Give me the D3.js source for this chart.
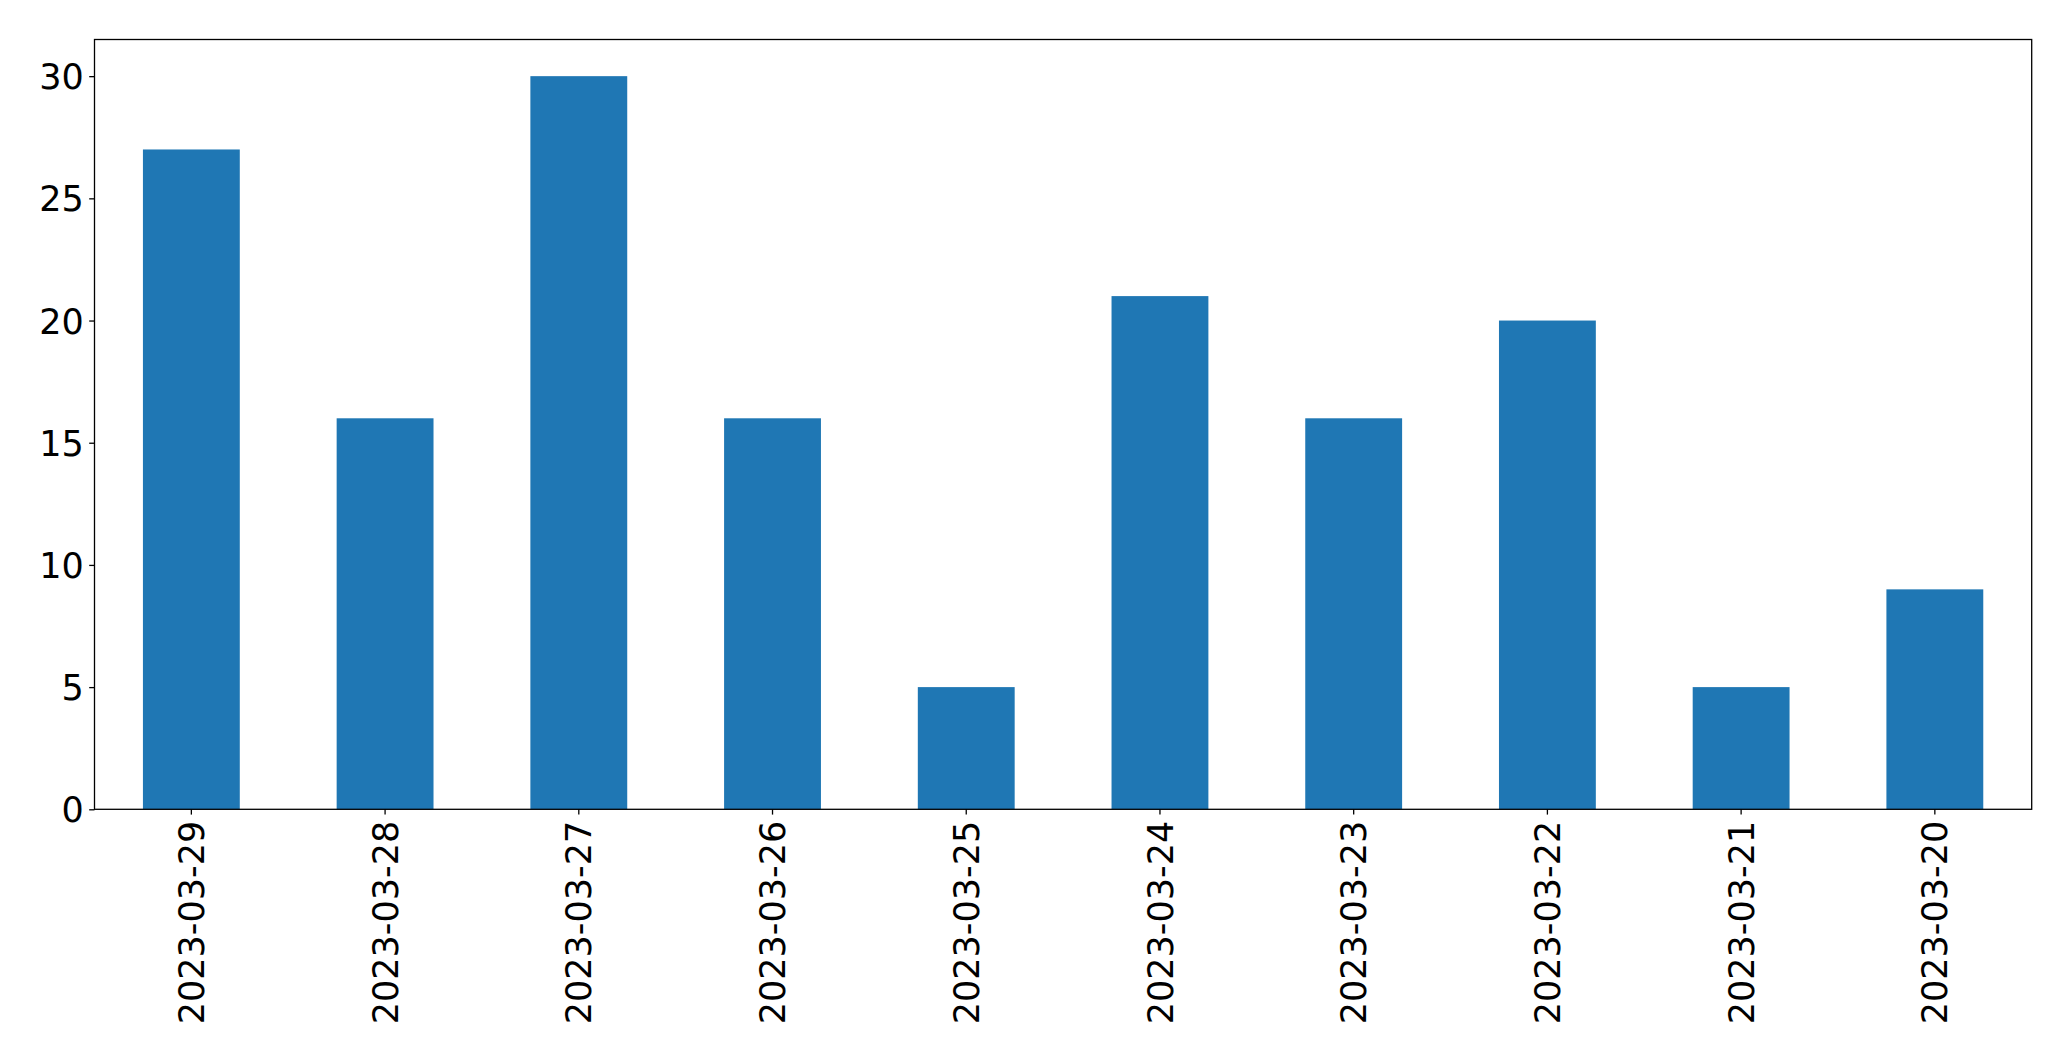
<!DOCTYPE html>
<html><head><meta charset="utf-8">
<script src="https://cdn.jsdelivr.net/npm/d3@7"></script>
<style>html,body{margin:0;padding:0;background:#fff;overflow:hidden}</style>
</head><body>
<svg id="c" width="2071" height="1061"></svg>
<script>
const categories = ["2023-03-29","2023-03-28","2023-03-27","2023-03-26","2023-03-25","2023-03-24","2023-03-23","2023-03-22","2023-03-21","2023-03-20"];
const values = [27,16,30,16,5,21,16,20,5,9];
const yTicks = [0,5,10,15,20,25,30];

const L = 94.5, R = 2031.7, T = 39.5, B = 809.3;
const svg = d3.select("#c");
const font = "'DejaVu Sans', sans-serif";
const fs = 35;

const x = d3.scaleBand().domain(categories).range([L, R]).paddingInner(0.5).paddingOuter(0.25);
const y = d3.scaleLinear().domain([0, 31.5]).range([B, T]);

svg.append("g").selectAll("rect").data(values).join("rect")
  .attr("x", (d,i) => x(categories[i]))
  .attr("width", x.bandwidth())
  .attr("y", d => y(d))
  .attr("height", d => y(0) - y(d))
  .attr("fill", "#1f77b4");

const xa = svg.append("g").attr("transform", `translate(0,${B})`)
  .call(d3.axisBottom(x).tickSize(5.3).tickPadding(6).tickSizeOuter(0));
xa.select(".domain").remove();
xa.selectAll("line").attr("stroke", "#000").attr("stroke-width", 1.3);
xa.selectAll("text")
  .attr("font-family", font).attr("font-size", fs).attr("fill", "#000")
  .attr("transform", "rotate(-90)")
  .attr("text-anchor", "end")
  .attr("x", -11.5).attr("y", 0).attr("dy", "0.36em");

const ya = svg.append("g").attr("transform", `translate(${L},0)`)
  .call(d3.axisLeft(y).tickValues(yTicks).tickFormat(d3.format("d")).tickSize(5.3).tickPadding(5.5).tickSizeOuter(0));
ya.select(".domain").remove();
ya.selectAll("line").attr("stroke", "#000").attr("stroke-width", 1.3);
ya.selectAll("text").attr("font-family", font).attr("font-size", fs).attr("fill", "#000").attr("dy", "0.36em");

svg.append("rect").attr("x", L).attr("y", T).attr("width", R - L).attr("height", B - T)
  .attr("fill", "none").attr("stroke", "#000").attr("stroke-width", 1.3);
</script>
</body></html>
